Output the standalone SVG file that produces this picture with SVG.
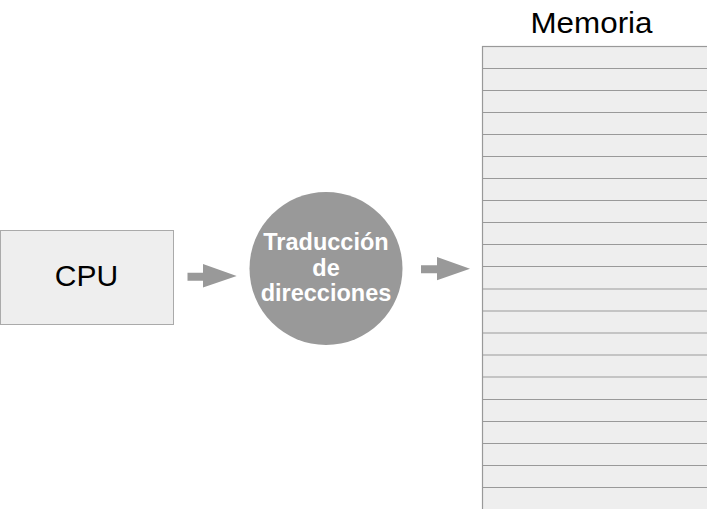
<svg xmlns="http://www.w3.org/2000/svg" width="707" height="509" viewBox="0 0 707 509">
<style>
.bg{fill:#ffffff}
.box{fill:#eeeeee;stroke:#aaaaaa;stroke-width:1}
.mem{fill:#eeeeee;stroke:#999999;stroke-width:1.2}
.row{stroke:#999999;stroke-width:1.2}
.circ{fill:#999999}
.arrow{fill:#999999}
.lbl{font-family:"Liberation Sans",Arial,sans-serif;fill:#000000;text-anchor:middle}
.wlbl{font-family:"Liberation Sans",Arial,sans-serif;fill:#ffffff;font-weight:bold;text-anchor:middle;font-size:23.5px}
</style>
<rect class="bg" x="0" y="0" width="707" height="509"/>
<g id="cpu">
<rect class="box" x="0.5" y="230.5" width="173" height="94"/>
<text class="lbl" x="86.5" y="286" font-size="30">CPU</text>
</g>
<g id="traduccion">
<circle class="circ" cx="326" cy="268.5" r="76.5"/>
<text class="wlbl" x="326" y="250">Traducción</text>
<text class="wlbl" x="326" y="275.5">de</text>
<text class="wlbl" x="326" y="301">direcciones</text>
</g>
<g id="memoria">
<text class="lbl" x="591.5" y="33.3" font-size="29" textLength="122" lengthAdjust="spacingAndGlyphs">Memoria</text>
<rect class="mem" x="482.5" y="46.5" width="240" height="480"/>
<g class="row">
<line x1="482.5" y1="68.5" x2="707" y2="68.5"/>
<line x1="482.5" y1="90.5" x2="707" y2="90.5"/>
<line x1="482.5" y1="112.5" x2="707" y2="112.5"/>
<line x1="482.5" y1="134.5" x2="707" y2="134.5"/>
<line x1="482.5" y1="156.5" x2="707" y2="156.5"/>
<line x1="482.5" y1="178.5" x2="707" y2="178.5"/>
<line x1="482.5" y1="200.5" x2="707" y2="200.5"/>
<line x1="482.5" y1="222.5" x2="707" y2="222.5"/>
<line x1="482.5" y1="244.5" x2="707" y2="244.5"/>
<line x1="482.5" y1="266.5" x2="707" y2="266.5"/>
<line x1="482.5" y1="289" x2="707" y2="289"/>
<line x1="482.5" y1="311" x2="707" y2="311"/>
<line x1="482.5" y1="333" x2="707" y2="333"/>
<line x1="482.5" y1="355" x2="707" y2="355"/>
<line x1="482.5" y1="377" x2="707" y2="377"/>
<line x1="482.5" y1="399.5" x2="707" y2="399.5"/>
<line x1="482.5" y1="421.5" x2="707" y2="421.5"/>
<line x1="482.5" y1="443.5" x2="707" y2="443.5"/>
<line x1="482.5" y1="465.5" x2="707" y2="465.5"/>
<line x1="482.5" y1="487.5" x2="707" y2="487.5"/>
</g>
</g>
<g id="connectors">
<polygon class="arrow" points="187.5,272.7 203,272.7 203,264 236.7,276 203,287.5 203,280.7 187.5,280.7"/>
<polygon class="arrow" points="421,265.3 437,265.3 437,257 470,268.7 437,280.3 437,273.3 421,273.3"/>
</g>
</svg>
